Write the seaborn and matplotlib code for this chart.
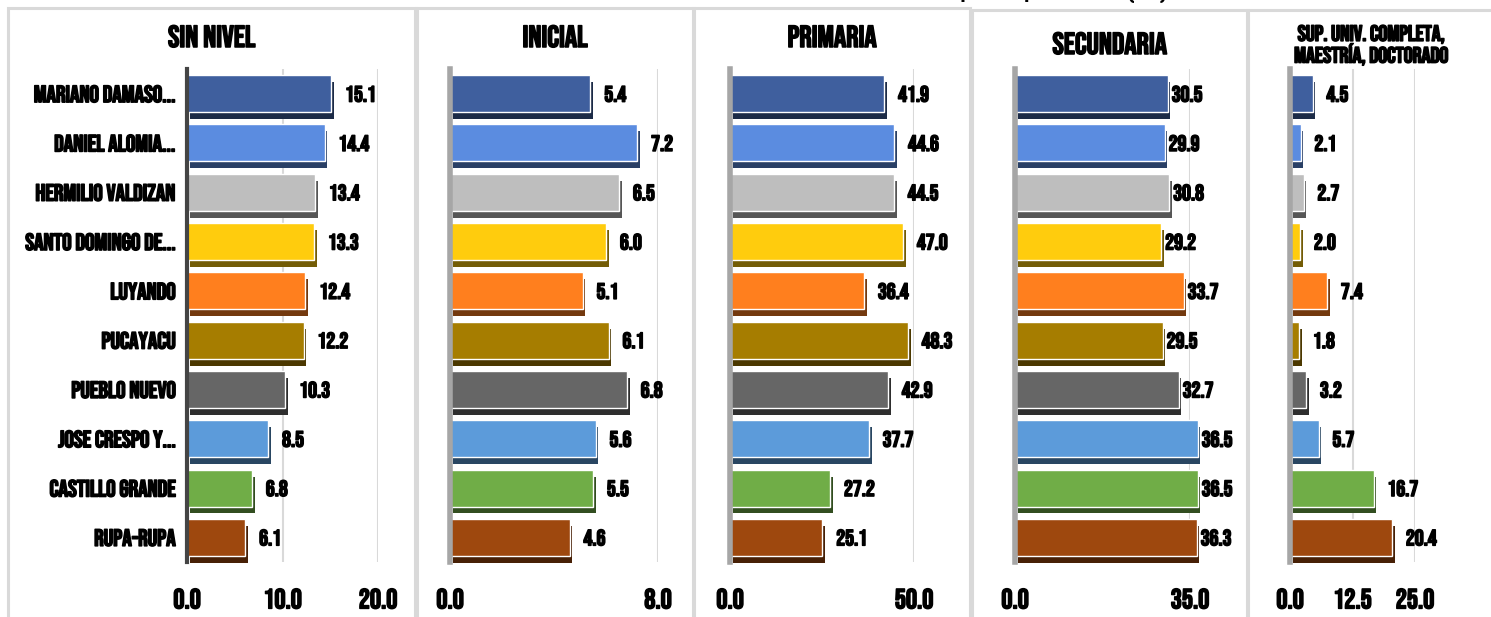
import numpy as np
import pandas as pd
import matplotlib
matplotlib.use('Agg')
import matplotlib.pyplot as plt
import matplotlib.patheffects as pe
from matplotlib.patches import Rectangle
import seaborn as sns

# --- data ---
distritos = ['MARIANO DAMASO...', 'DANIEL ALOMIA...', 'HERMILIO VALDIZAN',
             'SANTO DOMINGO DE...', 'LUYANDO', 'PUCAYACU', 'PUEBLO NUEVO',
             'JOSE CRESPO Y...', 'CASTILLO GRANDE', 'RUPA-RUPA']
niveles = ['SIN NIVEL', 'INICIAL', 'PRIMARIA', 'SECUNDARIA',
           'SUP. UNIV. COMPLETA,\nMAESTRÍA, DOCTORADO']
sin_nivel = [15.1, 14.4, 13.4, 13.3, 12.4, 12.2, 10.3, 8.5, 6.8, 6.1]
inicial = [5.4, 7.2, 6.5, 6.0, 5.1, 6.1, 6.8, 5.6, 5.5, 4.6]
primaria = [41.9, 44.6, 44.5, 47.0, 36.4, 48.3, 42.9, 37.7, 27.2, 25.1]
secundaria = [30.5, 29.9, 30.8, 29.2, 33.7, 29.5, 32.7, 36.5, 36.5, 36.3]
superior = [4.5, 2.1, 2.7, 2.0, 7.4, 1.8, 3.2, 5.7, 16.7, 20.4]
x_max = [20, 8, 50, 35, 25]
x_ticks = [[0, 10, 20], [0, 8], [0, 50], [0, 35], [0, 12.5, 25]]

colores = ['#3F5F9E', '#5B8CE0', '#BEBEBE', '#FFCC0D', '#FF7F1E',
           '#A67D00', '#666666', '#5C9BDA', '#70AD47', '#9E480E']

df = pd.DataFrame({'distrito': distritos * 5,
                   'nivel': np.repeat(niveles, len(distritos)),
                   'valor': sin_nivel + inicial + primaria + secundaria + superior})

sns.set_theme(style='white')
plt.rcParams['font.family'] = ['Bebas Neue', 'Oswald', 'IBM Plex Sans Condensed', 'DejaVu Sans']

# heavier strokes for the condensed font
bold = [pe.withStroke(linewidth=1.1, foreground='black')]

W, H = 1491, 617
fig = plt.figure(figsize=(W / 100, H / 100), dpi=100)

# panel frames (pixel coords: left, right, top)
frames = [(8, 415, 8), (417, 693, 8), (694, 970, 8), (972, 1247, 10), (1248, 1495, 10)]
for l, r, t in frames:
    fig.patches.append(Rectangle((l / W, -0.05), (r - l) / W, 1.05 - t / H,
                                 transform=fig.transFigure, fill=False,
                                 edgecolor='#D9D9D9', linewidth=2.2))

# axes (pixel x of value 0 and of x_max)
ax_px = [(187, 378), (450, 658), (730, 914), (1015, 1190), (1290, 1415)]
top, bottom = 69, 562
label_pad = [10, 10, 10, 3, 10]

for i, nivel in enumerate(niveles):
    x0, x1 = ax_px[i]
    ax = fig.add_axes([x0 / W, (H - bottom) / H, (x1 - x0) / W, (bottom - top) / H])
    sub = df[df['nivel'] == nivel]
    sns.barplot(data=sub, x='valor', y='distrito', hue='distrito', order=distritos,
                hue_order=distritos, palette=colores, legend=False, width=0.75,
                saturation=1, orient='h', ax=ax)
    for p in ax.patches:
        p.set_clip_on(False)
        p.set_path_effects([pe.SimplePatchShadow(offset=(2, -5), rho=0.45, alpha=1.0),
                            pe.Normal()])
    for c in ax.containers:
        for t in ax.bar_label(c, fmt='%.1f', padding=label_pad[i], fontsize=16,
                              color='black'):
            t.set_annotation_clip(False)
            t.set_path_effects(bold)
    ax.set_xlim(0, x_max[i])
    ax.set_xticks(x_ticks[i])
    ax.set_xticklabels([f'{t:.1f}' for t in x_ticks[i]])
    ax.tick_params(axis='x', length=0, pad=19, labelsize=20, labelcolor='black')
    ax.xaxis.grid(True, color='#D9D9D9', linewidth=1.5)
    ax.set_axisbelow(True)
    ax.set_xlabel('')
    ax.set_ylabel('')
    for s in ['top', 'right', 'bottom']:
        ax.spines[s].set_visible(False)
    if i == 0:
        ax.spines['left'].set_color('#444444')
        ax.spines['left'].set_linewidth(3)
        ax.tick_params(axis='y', length=0, pad=8, labelsize=17, labelcolor='black')
        for t in ax.get_yticklabels():
            t.set_path_effects(bold)
    else:
        ax.spines['left'].set_color('#A6A6A6')
        ax.spines['left'].set_linewidth(4)
        ax.set_yticklabels([])
        ax.tick_params(axis='y', length=0)
    for t in ax.get_xticklabels():
        t.set_path_effects(bold)

    l, r, t = frames[i]
    cx = (l + min(r, W)) / 2 / W
    if i < 4:
        ty = 36 if i < 3 else 43
        fig.text(cx, 1 - ty / H, nivel, ha='center', va='center', fontsize=22,
                 color='black', path_effects=bold)
    else:
        fig.text(1371 / W, 1 - 45 / H, nivel, ha='center', va='center', fontsize=16,
                 color='black', linespacing=1.0, path_effects=bold)

# chart title sits above the crop; only its lowest strokes peek in
fig.text(1167 / W, 1 + 3 / H, 'Nivel educativo alcanzado por la población (%)',
         ha='right', va='baseline', fontsize=20, color='black', family='Oswald',
         fontweight='bold')

fig.savefig('out.png', dpi=100)
